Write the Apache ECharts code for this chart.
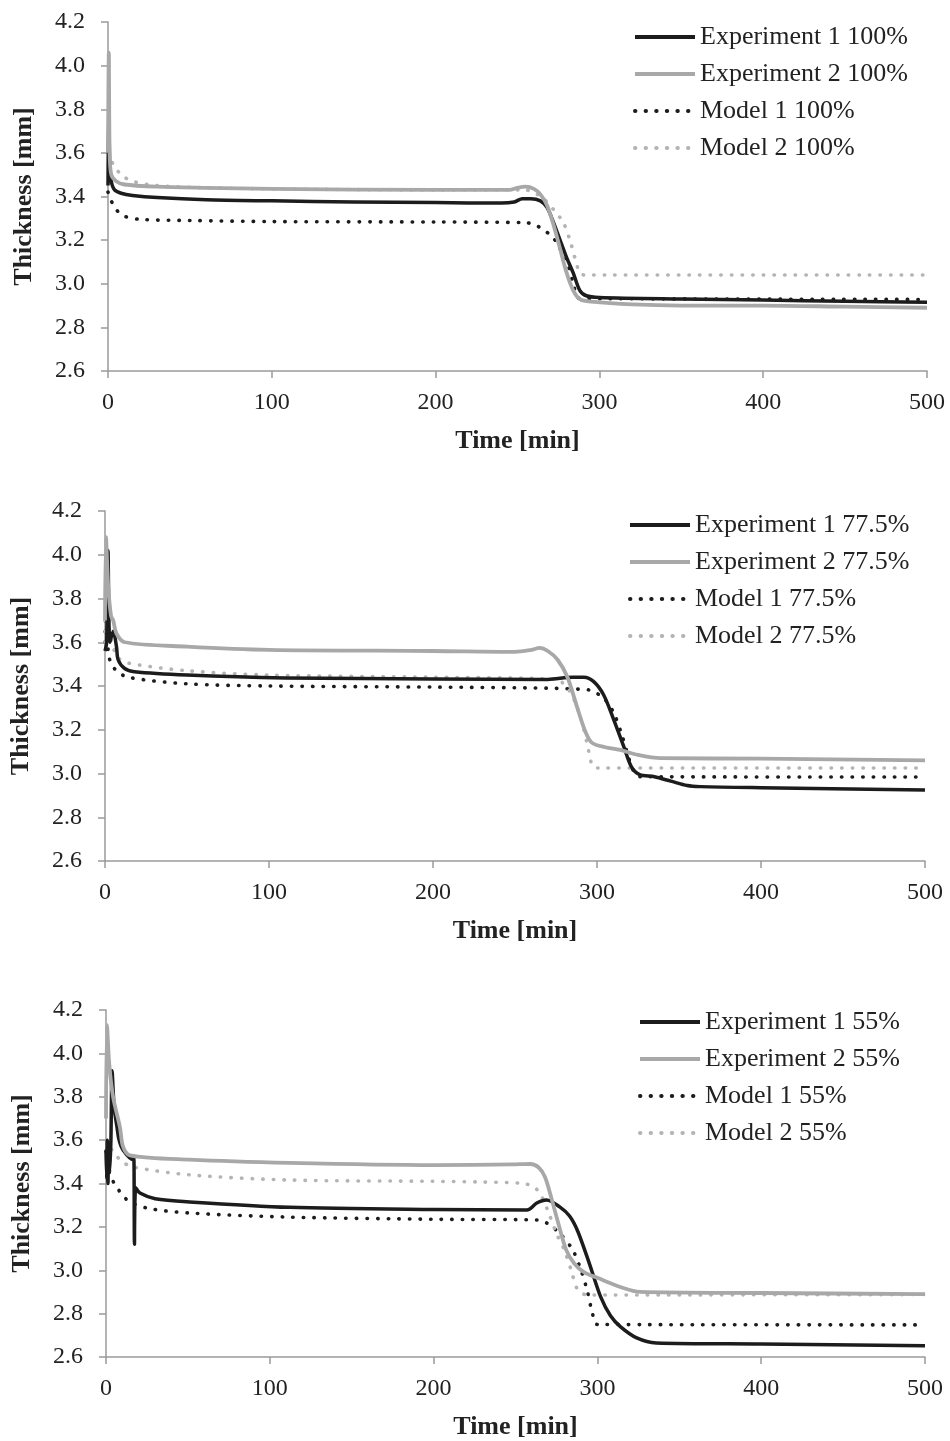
<!DOCTYPE html>
<html><head><meta charset="utf-8">
<script src="https://cdn.jsdelivr.net/npm/echarts@6/dist/echarts.min.js"></script>
<style>html,body{margin:0;padding:0;background:#fff}#c{width:950px;height:1441px}</style>
</head><body><div id="c"></div>
<script>
// ---- tick labels ----
const xTicks = [0, 100, 200, 300, 400, 500];
const yTicks = [2.6, 2.8, 3.0, 3.2, 3.4, 3.6, 3.8, 4.0, 4.2];
const xTitle = 'Time [min]';
const yTitle = 'Thickness [mm]';

// ---- Panel 1: 100% ----
const names100 = ['Experiment 1 100%', 'Experiment 2 100%', 'Model 1 100%', 'Model 2 100%'];
const exp1_100 = [[0,3.45],[0.5,3.85],[1,3.55],[2,3.47],[4,3.43],[8,3.415],[15,3.405],[30,3.395],[60,3.385],[100,3.38],[150,3.375],[200,3.372],[240,3.37],[248,3.375],[253,3.39],[258,3.39],[264,3.38],[268,3.35],[272,3.28],[276,3.2],[280,3.12],[284,3.05],[288,2.97],[292,2.945],[300,2.937],[350,2.93],[400,2.925],[450,2.92],[500,2.915]];
const exp2_100 = [[0,3.6],[0.5,4.06],[1,3.6],[2,3.5],[5,3.47],[10,3.455],[30,3.445],[60,3.44],[100,3.435],[200,3.43],[245,3.43],[250,3.44],[255,3.445],[260,3.435],[264,3.41],[268,3.36],[272,3.27],[276,3.16],[280,3.05],[284,2.97],[288,2.93],[295,2.918],[320,2.905],[350,2.9],[400,2.9],[450,2.895],[500,2.89]];
const model1_100 = [[0,3.42],[2,3.38],[5,3.34],[10,3.31],[20,3.295],[50,3.29],[100,3.285],[200,3.283],[255,3.28],[262,3.265],[267,3.24],[271,3.22],[276,3.16],[280,3.11],[284,3.0],[287,2.935],[290,2.932],[500,2.928]];
const model2_100 = [[0,3.6],[3,3.55],[8,3.5],[15,3.47],[30,3.45],[60,3.44],[100,3.435],[200,3.43],[255,3.43],[262,3.41],[266,3.39],[272,3.34],[278,3.28],[282,3.2],[285,3.12],[288,3.05],[291,3.04],[500,3.04]];

// ---- Panel 2: 77.5% ----
const names775 = ['Experiment 1 77.5%', 'Experiment 2 77.5%', 'Model 1 77.5%', 'Model 2 77.5%'];
const exp1_775 = [[0,3.56],[1,3.6],[1.8,4.02],[3,3.6],[5,3.65],[7,3.58],[8,3.52],[12,3.48],[18,3.465],[50,3.45],[110,3.437],[200,3.432],[270,3.43],[285,3.44],[292,3.44],[298,3.42],[304,3.36],[310,3.25],[316,3.13],[321,3.03],[326,2.995],[335,2.985],[345,2.965],[355,2.945],[363,2.94],[400,2.935],[500,2.925]];
const exp2_775 = [[0,3.7],[0.6,4.08],[2,3.85],[3.7,3.72],[5,3.7],[7,3.64],[12,3.6],[50,3.58],[100,3.565],[200,3.56],[250,3.556],[260,3.565],[265,3.574],[270,3.56],[276,3.52],[282,3.44],[288,3.3],[293,3.19],[297,3.14],[305,3.12],[314,3.108],[325,3.085],[339,3.07],[400,3.068],[500,3.06]];
const model1_775 = [[0,3.6],[1,3.9],[2,3.55],[4,3.5],[7,3.47],[14,3.44],[50,3.41],[100,3.4],[200,3.395],[270,3.39],[290,3.385],[296,3.38],[304,3.345],[310,3.28],[315,3.18],[319,3.08],[322,3.016],[326,2.985],[500,2.984]];
const model2_775 = [[0,3.6],[1,3.75],[4,3.6],[8,3.53],[14,3.505],[50,3.47],[100,3.45],[200,3.44],[275,3.43],[283,3.38],[288,3.3],[292,3.2],[295,3.1],[297,3.04],[300,3.025],[500,3.025]];

// ---- Panel 3: 55% ----
const names55 = ['Experiment 1 55%', 'Experiment 2 55%', 'Model 1 55%', 'Model 2 55%'];
const exp1_55 = [[0,3.55],[0.4,3.42],[0.8,3.6],[1.2,3.4],[1.6,3.58],[2.2,3.45],[3,3.6],[3.7,3.92],[5,3.75],[6.7,3.66],[8,3.6],[10.4,3.555],[16.5,3.51],[17,3.52],[17.4,3.12],[17.8,3.12],[18.2,3.38],[20.7,3.356],[30,3.33],[51,3.315],[112,3.29],[200,3.28],[257,3.278],[263,3.31],[269,3.324],[277,3.292],[283,3.25],[288,3.18],[295,3.033],[302,2.877],[308,2.79],[314,2.74],[324,2.688],[336,2.665],[400,2.66],[500,2.652]];
const exp2_55 = [[0,3.7],[0.6,4.13],[2,3.95],[4.3,3.8],[8.5,3.66],[10.4,3.57],[14.6,3.53],[51,3.51],[112,3.495],[200,3.485],[248,3.488],[259,3.49],[264,3.475],[268,3.43],[272,3.33],[276,3.22],[281,3.093],[286,3.03],[292,2.99],[300,2.965],[314,2.923],[326,2.9],[400,2.895],[500,2.89]];
const model1_55 = [[0,3.55],[2,3.45],[4.3,3.41],[12.8,3.325],[25,3.287],[51,3.264],[112,3.245],[200,3.235],[263,3.232],[269,3.218],[277,3.17],[285,3.093],[290,3.0],[294,2.9],[297,2.8],[300,2.75],[500,2.748]];
const model2_55 = [[0,3.6],[4,3.55],[10,3.5],[16.5,3.476],[51,3.44],[112,3.416],[200,3.41],[228,3.407],[255,3.4],[262,3.38],[266,3.34],[270,3.27],[275,3.17],[280,3.09],[284,3.0],[288,2.91],[294,2.886],[500,2.888]];

const BLACK = '#1c1c1c', GRAY = '#a8a8a8', GRAY_DOT = '#b4b4b4';
const FONT = '"Liberation Serif","Times New Roman",serif';
const grids = [
  {left:108, right:23, top:22, height:349},
  {left:104, right:25, top:511, height:350},
  {left:106, right:25, top:1010, height:347}
];
const legendPos = [
  {left:633, top:24},
  {left:628, top:512},
  {left:638, top:1009}
];
const panels = [
  {names:names100, data:[exp1_100, exp2_100, model1_100, model2_100]},
  {names:names775, data:[exp1_775, exp2_775, model1_775, model2_775]},
  {names:names55,  data:[exp1_55,  exp2_55,  model1_55,  model2_55]}
];
const styles = [
  {color:BLACK, width:3.5, type:'solid', cap:'butt'},
  {color:GRAY, width:3.8, type:'solid', cap:'butt'},
  {color:BLACK, width:3.6, type:[0.4,10.2], cap:'round'},
  {color:GRAY_DOT, width:3.6, type:[0.4,10.2], cap:'round'}
];
const axisCommon = {
  axisLine:{show:true, lineStyle:{color:'#9a9a9a', width:1.5}},
  axisTick:{show:true, inside:false, length:7, lineStyle:{color:'#9a9a9a', width:1.5}},
  splitLine:{show:false},
  nameTextStyle:{fontFamily:FONT, fontSize:26, fontWeight:'bold', color:'#222'}
};
const xAxis = [], yAxis = [], series = [], legend = [];
panels.forEach((p, i) => {
  xAxis.push(Object.assign({}, axisCommon, {
    type:'value', gridIndex:i, min:xTicks[0], max:xTicks[xTicks.length-1], interval:100,
    name:xTitle, nameLocation:'middle', nameGap:57,
    axisLabel:{fontFamily:FONT, fontSize:24, color:'#222', margin:20}
  }));
  yAxis.push(Object.assign({}, axisCommon, {
    type:'value', gridIndex:i, min:yTicks[0], max:yTicks[yTicks.length-1], interval:0.2,
    name:yTitle, nameLocation:'middle', nameGap:71, nameRotate:90,
    axisLabel:{fontFamily:FONT, fontSize:24, color:'#222', margin:23, formatter:v=>v.toFixed(1)}
  }));
  legend.push({
    orient:'vertical', left:legendPos[i].left, top:legendPos[i].top, padding:0,
    itemWidth:60, itemHeight:14, itemGap:11,
    itemStyle:{opacity:0},
    data:p.names.map((n, k) => ({
      name:n,
      lineStyle:{color:styles[k].color, width:4, type:styles[k].type, cap:styles[k].cap}
    })),
    textStyle:{fontFamily:FONT, fontSize:26, color:'#222', lineHeight:26}
  });
  p.data.forEach((d, k) => {
    const s = styles[k];
    series.push({
      type:'line', name:p.names[k], xAxisIndex:i, yAxisIndex:i, data:d,
      symbol:'none', showSymbol:false, smooth:0.3, silent:true, animation:false,
      lineStyle:{color:s.color, width:s.width, type:s.type, cap:s.cap, join:'round'},
      itemStyle:{color:s.color}, z: k<2 ? 3 : 2
    });
  });
});
const chart = echarts.init(document.getElementById('c'), null, {renderer:'canvas'});
chart.setOption({backgroundColor:'#fff', animation:false, grid:grids, xAxis, yAxis, series, legend});
</script></body></html>
